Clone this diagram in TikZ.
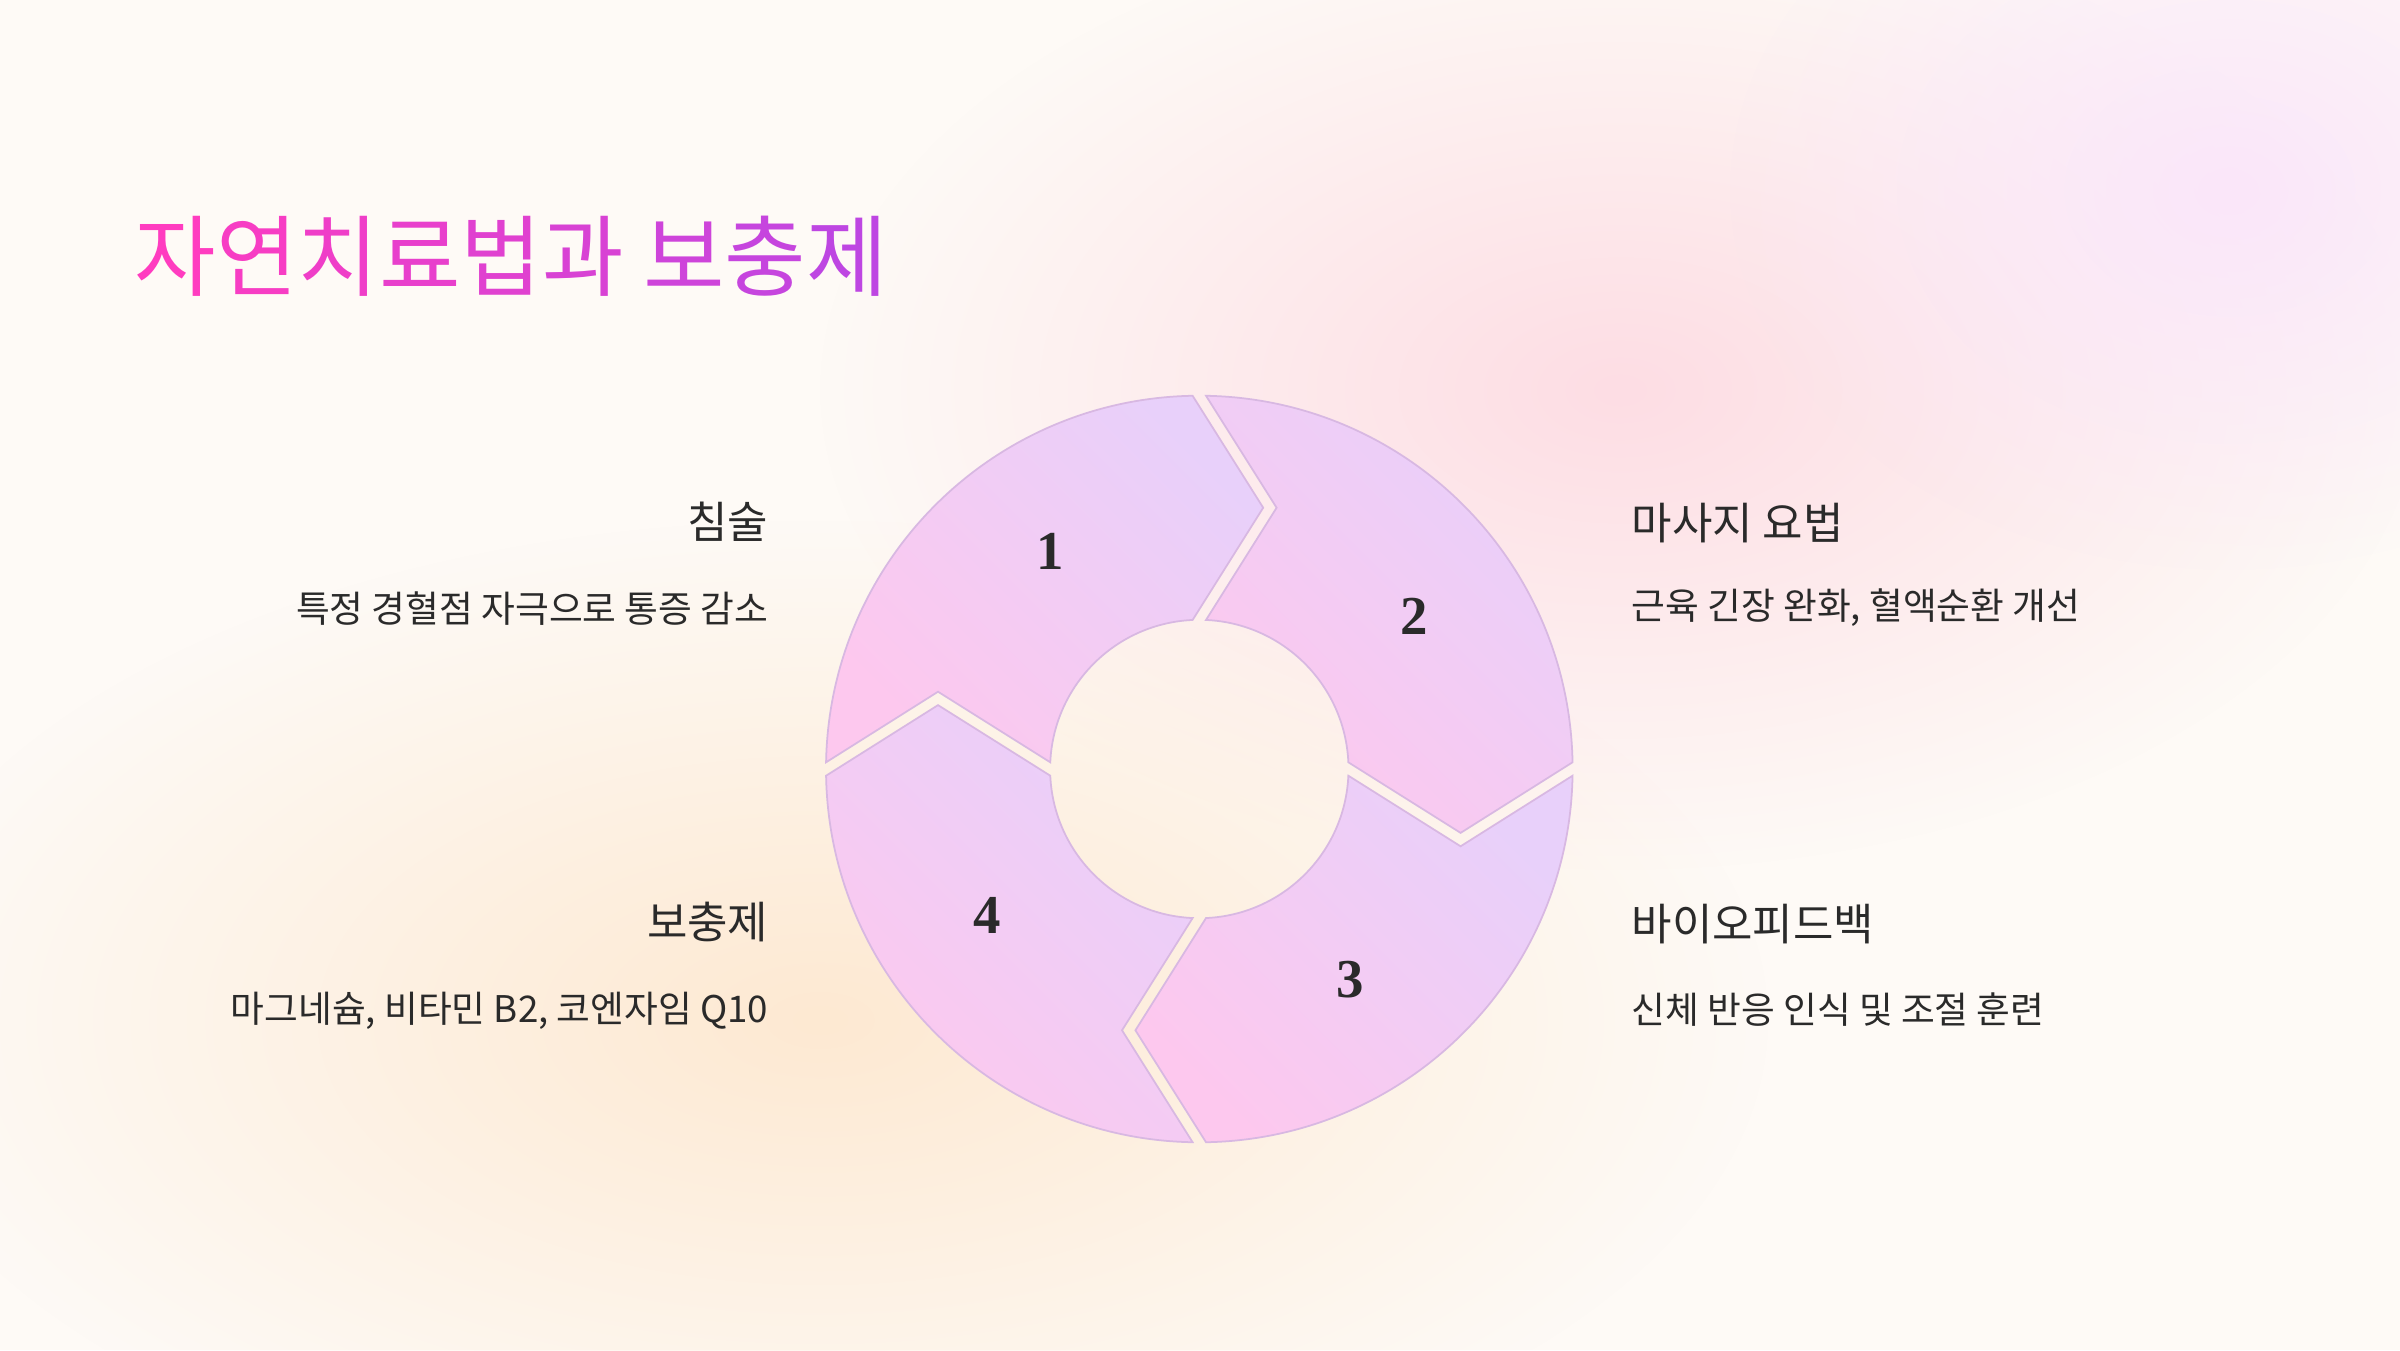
\documentclass[tikz,border=0pt]{standalone}
\usepackage{fontspec}
\newfontfamily\kr{Noto Sans CJK KR}
\newfontfamily\numf{Liberation Serif}
\usetikzlibrary{fadings,calc}
\tikzfading[name=blobfade, inner color=transparent!0, outer color=transparent!100]
\definecolor{bg}{HTML}{FEFAF6}
\definecolor{blobpink}{HTML}{FDDDE4}
\definecolor{bloblav}{HTML}{FAE6FA}
\definecolor{blobpeach}{HTML}{FDE9D2}
\definecolor{seglav}{HTML}{E8D0FA}
\definecolor{segpink}{HTML}{FDC8EE}
\definecolor{segline}{HTML}{D8B8E2}
\definecolor{ink}{HTML}{2A2A2A}
\definecolor{ttlA}{HTML}{FF3CC0}
\definecolor{ttlB}{HTML}{BE46E2}
\newcommand\ttlc[2]{{\color{ttlB!#1!ttlA}#2}}
\tikzset{
  segstyle/.style={draw=segline, line width=0.5pt, top color=seglav, bottom color=segpink, shading angle=-45},
  heading/.style={font=\kr\fontsize{12.5pt}{15pt}\selectfont, text=ink, inner sep=0pt},
  desc/.style={font=\kr\fontsize{10.45pt}{13pt}\selectfont, text=ink, inner sep=0pt},
  num/.style={font=\numf\bfseries\fontsize{15.6pt}{18pt}\selectfont, text=ink, inner sep=0pt},
}
\begin{document}
\begin{tikzpicture}[x=1cm,y=1cm]
\useasboundingbox (0,0) rectangle (24,13.5);
\fill[bg] (0,0) rectangle (24,13.5);
\fill[blobpink, path fading=blobfade] (16.2,9.6) ellipse (8 and 4.8);
\fill[bloblav, path fading=blobfade] (22.3,11.6) ellipse (5 and 3.8);
\fill[blobpeach, path fading=blobfade] (8.2,3.3) ellipse (9.5 and 5);
\coordinate (C) at (11.993,5.81);
% ring segments
\foreach \rot/\sname in {90/seg1, 0/seg2, -90/seg3, -180/seg4}{
  \pgfmathsetmacro\aS{88.97+\rot}
  \pgfmathsetmacro\aE{1.03+\rot}
  \pgfmathsetmacro\aT{-13.74+\rot}
  \pgfmathsetmacro\aIs{2.574+\rot}
  \pgfmathsetmacro\aIe{87.426+\rot}
  \pgfmathsetmacro\aN{73.52+\rot}
  \shadedraw[segstyle] ($(C)+(\aS:3.733)$) arc[start angle=\aS, end angle=\aE, radius=3.733]
    -- ($(C)+(\aT:2.690)$) -- ($(C)+(\aIs:1.492)$)
    arc[start angle=\aIs, end angle=\aIe, radius=1.492]
    -- ($(C)+(\aN:2.7249)$) -- cycle;
}
% numbers
\node[num] (n1) at (10.50,7.99) {1};
\node[num] (n2) at (14.145,7.34) {2};
\node[num] (n3) at (13.50,3.70) {3};
\node[num] (n4) at (9.867,4.345) {4};
% title
\node[anchor=west, inner sep=0pt, font=\kr\fontsize{25.2pt}{30pt}\selectfont] (title) at (1.34,10.94)
  {\ttlc{0}{자}\ttlc{12}{연}\ttlc{24}{치}\ttlc{36}{료}\ttlc{48}{법}\ttlc{60}{과} \ttlc{76}{보}\ttlc{88}{충}\ttlc{100}{제}};
% labels
\node[heading, anchor=east] (h1) at (7.69,8.28) {침술};
\node[desc, anchor=east] (d1) at (7.69,7.41) {특정 경혈점 자극으로 통증 감소};
\node[heading, anchor=west] (h2) at (16.31,8.27) {마사지 요법};
\node[desc, anchor=west] (d2) at (16.31,7.42) {근육 긴장 완화, 혈액순환 개선};
\node[heading, anchor=east] (h4) at (7.69,4.28) {보충제};
\node[desc, anchor=east] (d4) at (7.69,3.39) {마그네슘, 비타민 B2, 코엔자임 Q10};
\node[heading, anchor=west] (h3) at (16.31,4.26) {바이오피드백};
\node[desc, anchor=west] (d3) at (16.31,3.40) {신체 반응 인식 및 조절 훈련};
\end{tikzpicture}
\end{document}
